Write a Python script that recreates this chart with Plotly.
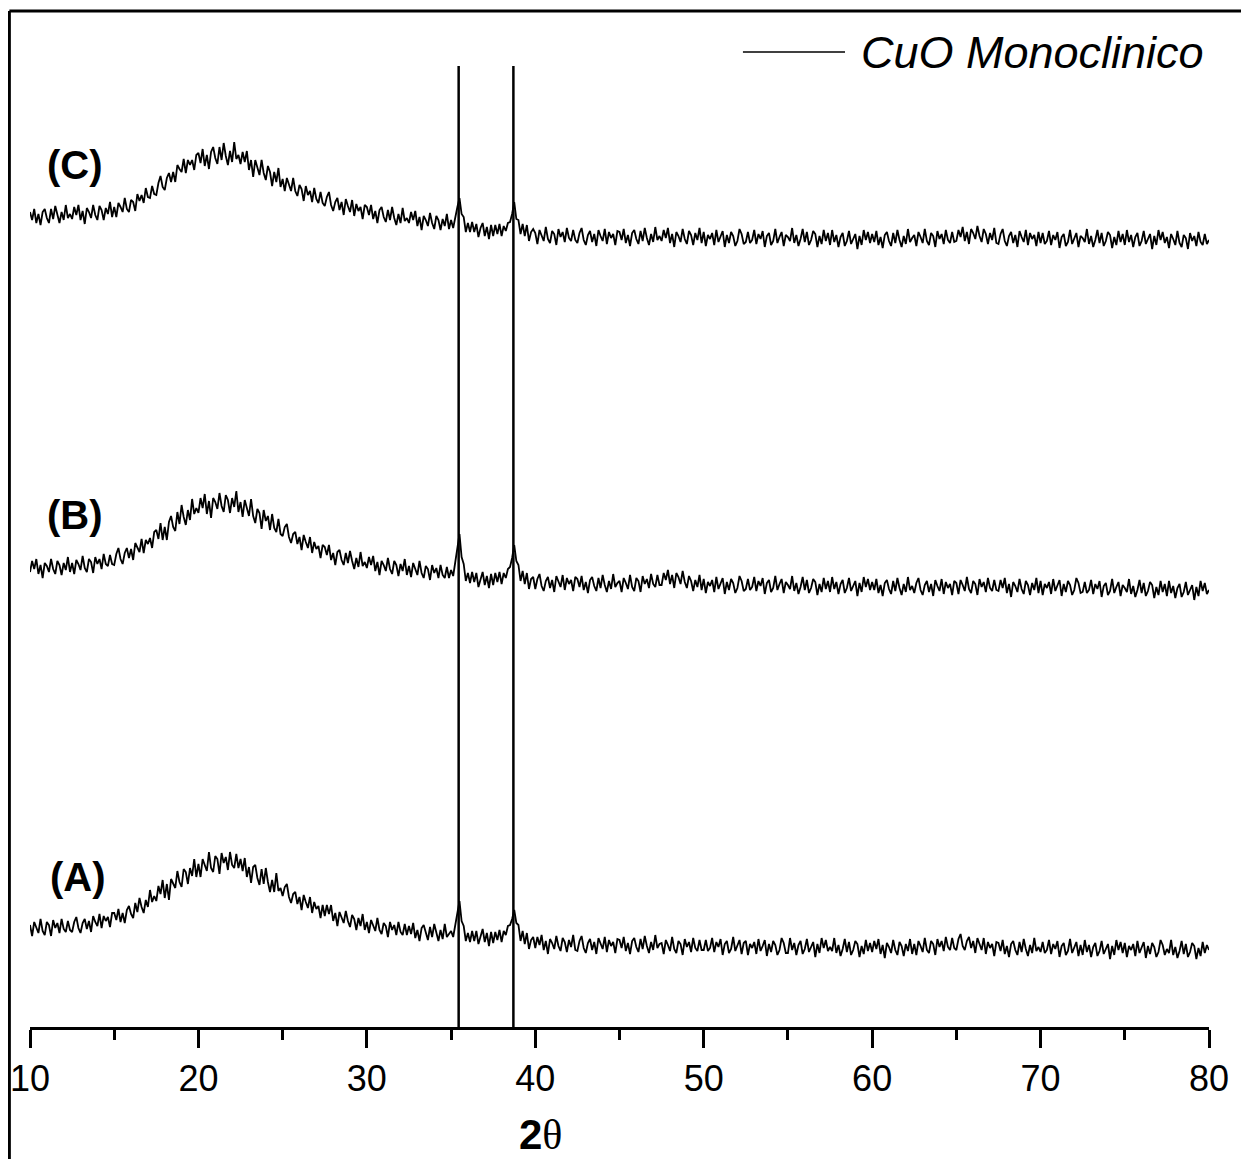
import numpy as np
import plotly.graph_objects as go

# 2-theta sampling grid (degrees)
theta_start, theta_stop, theta_step = 10.0, 80.0, 0.125
two_theta = np.round(np.arange(theta_start, theta_stop + theta_step / 2, theta_step), 3)

# Intensity (a.u., traces already vertically offset as in the figure); one row = 2.5 degrees
sample_C = [
    815, 807, 818, 804, 813, 802, 815, 818, 809, 804, 818, 808, 821, 811, 804, 815, 807, 822, 809, 813,
    808, 820, 812, 822, 807, 816, 803, 819, 815, 809, 822, 812, 807, 821, 817, 807, 819, 813, 825, 810,
    820, 810, 824, 820, 815, 829, 818, 815, 827, 825, 816, 833, 826, 832, 824, 839, 830, 829, 841, 833,
    832, 844, 851, 840, 837, 849, 854, 845, 855, 845, 862, 858, 855, 868, 854, 867, 862, 867, 857, 872,
    874, 864, 878, 861, 872, 858, 875, 880, 869, 863, 880, 867, 884, 871, 862, 876, 865, 885, 868, 872,
    863, 875, 865, 876, 857, 867, 850, 867, 860, 852, 867, 854, 847, 861, 855, 841, 855, 845, 859, 840,
    848, 836, 849, 843, 836, 849, 836, 831, 842, 838, 826, 841, 832, 836, 825, 839, 828, 824, 835, 824,
    821, 830, 835, 822, 816, 825, 829, 817, 825, 812, 828, 821, 815, 827, 811, 823, 816, 820, 808, 822,
    820, 812, 822, 808, 816, 804, 817, 820, 810, 805, 817, 807, 820, 809, 802, 813, 804, 819, 806, 809,
    804, 815, 807, 816, 801, 810, 797, 811, 807, 801, 814, 804, 798, 811, 807, 797, 808, 801, 813, 798,
    807, 799, 811, 820, 829, 813, 810, 795, 804, 795, 805, 795, 803, 790, 799, 804, 791, 800, 788, 802,
    791, 802, 793, 803, 791, 801, 796, 804, 805, 813, 825, 808, 807, 793, 803, 791, 802, 786, 795, 798,
    794, 783, 797, 792, 786, 800, 788, 784, 796, 793, 782, 798, 790, 795, 785, 799, 789, 786, 797, 787,
    784, 794, 799, 787, 782, 792, 796, 785, 793, 781, 797, 791, 786, 798, 783, 795, 789, 793, 782, 796,
    795, 787, 798, 784, 792, 781, 794, 797, 788, 783, 796, 786, 799, 789, 782, 793, 785, 800, 787, 791,
    786, 797, 789, 799, 784, 793, 780, 795, 791, 785, 798, 788, 783, 796, 792, 782, 794, 787, 799, 784,
    795, 781, 792, 788, 794, 782, 797, 785, 790, 796, 780, 792, 784, 795, 791, 781, 786, 798, 793, 783,
    785, 795, 784, 787, 797, 783, 793, 788, 796, 780, 791, 794, 782, 786, 798, 784, 790, 795, 781, 792,
    790, 786, 799, 784, 792, 781, 788, 798, 785, 795, 782, 787, 796, 793, 780, 791, 783, 797, 786, 794,
    782, 797, 785, 792, 780, 790, 794, 781, 786, 796, 783, 789, 793, 778, 791, 782, 797, 787, 795, 784,
    793, 785, 796, 782, 790, 779, 792, 795, 786, 781, 794, 784, 797, 787, 780, 791, 783, 798, 785, 789,
    792, 781, 795, 790, 784, 798, 786, 782, 794, 791, 780, 796, 788, 793, 783, 797, 787, 784, 795, 785,
    786, 797, 790, 800, 786, 795, 783, 798, 794, 788, 801, 791, 785, 798, 793, 783, 794, 787, 799, 784,
    783, 793, 798, 786, 781, 791, 795, 784, 792, 780, 796, 790, 785, 797, 782, 794, 788, 792, 781, 795,
    784, 794, 783, 786, 796, 782, 792, 787, 795, 779, 790, 793, 781, 785, 797, 783, 789, 794, 780, 791,
    789, 785, 798, 783, 791, 780, 787, 797, 784, 794, 781, 786, 795, 792, 779, 790, 782, 796, 785, 793,
    782, 797, 785, 792, 780, 790, 794, 781, 786, 796, 783, 789, 793, 778, 791, 782, 797, 787, 795, 784,
    790, 779, 793, 788, 782, 796, 784, 780, 792, 789, 778, 794, 786, 791, 781, 795, 785, 782, 793, 783,
    787,
]

sample_B = [
    455, 466, 458, 468, 453, 462, 449, 464, 461, 455, 468, 458, 453, 466, 462, 452, 464, 457, 470, 455,
    464, 453, 467, 463, 457, 471, 459, 455, 468, 465, 454, 470, 463, 468, 458, 473, 463, 461, 472, 463,
    462, 473, 479, 468, 463, 474, 479, 469, 478, 467, 484, 479, 475, 488, 474, 487, 483, 489, 479, 495,
    497, 488, 504, 487, 500, 487, 505, 511, 500, 496, 515, 503, 522, 510, 502, 517, 507, 528, 513, 519,
    514, 529, 519, 533, 513, 526, 509, 529, 525, 518, 534, 521, 515, 532, 527, 514, 529, 520, 536, 515,
    525, 510, 527, 519, 511, 528, 511, 504, 518, 514, 498, 517, 506, 511, 497, 513, 499, 495, 508, 493,
    491, 500, 503, 490, 484, 493, 495, 483, 490, 477, 492, 485, 479, 490, 474, 485, 478, 481, 469, 482,
    480, 472, 482, 467, 474, 462, 475, 477, 467, 462, 474, 464, 476, 466, 458, 469, 460, 475, 461, 465,
    459, 470, 462, 471, 456, 465, 452, 466, 462, 456, 469, 458, 453, 466, 462, 451, 463, 456, 468, 452,
    461, 450, 464, 458, 452, 466, 454, 449, 461, 458, 447, 462, 454, 459, 449, 462, 452, 449, 460, 449,
    457, 451, 465, 478, 493, 470, 463, 446, 454, 444, 455, 445, 454, 440, 449, 455, 442, 451, 439, 453,
    442, 454, 445, 455, 443, 454, 449, 458, 460, 469, 482, 466, 462, 446, 456, 443, 454, 438, 448, 450,
    438, 448, 453, 441, 436, 446, 450, 439, 447, 435, 451, 445, 440, 452, 437, 449, 443, 447, 436, 450,
    448, 440, 451, 437, 445, 434, 447, 450, 441, 436, 449, 439, 452, 442, 435, 446, 438, 453, 440, 444,
    446, 435, 449, 444, 438, 452, 440, 436, 449, 446, 435, 451, 443, 448, 439, 453, 443, 440, 452, 442,
    442, 454, 447, 457, 443, 452, 439, 454, 450, 443, 456, 445, 439, 451, 446, 436, 447, 440, 452, 437,
    448, 434, 445, 441, 447, 435, 450, 438, 443, 449, 433, 445, 437, 448, 444, 434, 439, 451, 446, 436,
    438, 448, 437, 440, 450, 436, 446, 441, 449, 433, 444, 447, 435, 439, 451, 437, 443, 448, 434, 445,
    442, 438, 451, 436, 444, 433, 440, 450, 437, 447, 434, 439, 448, 445, 432, 443, 435, 449, 438, 446,
    435, 450, 438, 445, 433, 443, 447, 434, 439, 449, 436, 442, 446, 431, 444, 435, 450, 440, 448, 437,
    445, 437, 448, 434, 442, 431, 444, 447, 438, 433, 446, 436, 449, 439, 432, 443, 435, 450, 437, 441,
    434, 444, 449, 437, 432, 442, 446, 435, 443, 431, 447, 441, 436, 448, 433, 445, 439, 443, 432, 446,
    444, 433, 447, 442, 436, 450, 438, 434, 446, 443, 432, 448, 440, 445, 435, 449, 439, 436, 447, 437,
    436, 447, 439, 449, 434, 443, 430, 445, 441, 435, 448, 438, 433, 446, 442, 432, 444, 437, 449, 434,
    446, 432, 443, 439, 445, 433, 448, 436, 441, 447, 431, 443, 435, 446, 442, 432, 437, 449, 444, 434,
    435, 445, 434, 437, 447, 433, 443, 438, 446, 430, 441, 444, 432, 436, 448, 434, 440, 445, 431, 442,
    439, 435, 448, 433, 441, 430, 437, 447, 434, 444, 431, 436, 445, 442, 429, 440, 432, 446, 435, 443,
    431, 446, 434, 441, 429, 439, 443, 430, 435, 445, 432, 438, 442, 427, 440, 431, 446, 436, 444, 433,
    437,
]

sample_A = [
    102, 91, 105, 100, 94, 108, 96, 92, 105, 102, 91, 107, 99, 104, 94, 108, 98, 95, 106, 97,
    95, 105, 110, 99, 94, 104, 108, 98, 106, 95, 111, 105, 101, 113, 99, 111, 106, 110, 100, 114,
    114, 107, 118, 105, 114, 104, 117, 121, 113, 109, 124, 115, 129, 120, 114, 127, 120, 137, 125, 131,
    126, 141, 133, 147, 129, 143, 127, 148, 144, 139, 156, 145, 140, 158, 155, 143, 159, 151, 168, 150,
    163, 150, 168, 162, 156, 175, 159, 155, 171, 168, 153, 174, 164, 170, 157, 175, 162, 159, 173, 159,
    168, 156, 169, 150, 160, 144, 160, 162, 149, 142, 158, 143, 159, 145, 135, 147, 135, 154, 136, 139,
    131, 140, 143, 130, 124, 133, 135, 123, 130, 117, 132, 125, 119, 130, 114, 125, 118, 121, 109, 122,
    111, 122, 113, 122, 106, 114, 101, 115, 110, 104, 116, 106, 100, 112, 108, 97, 109, 101, 113, 97,
    105, 94, 107, 102, 96, 109, 97, 93, 104, 101, 90, 105, 97, 102, 92, 105, 95, 92, 103, 92,
    101, 93, 104, 89, 97, 86, 99, 102, 93, 87, 100, 90, 103, 93, 86, 97, 88, 103, 90, 93,
    96, 90, 103, 114, 126, 106, 101, 86, 94, 85, 96, 86, 96, 83, 92, 98, 85, 94, 81, 95,
    84, 95, 87, 97, 85, 96, 92, 101, 102, 108, 117, 104, 102, 86, 96, 83, 94, 78, 87, 90,
    79, 90, 82, 92, 77, 86, 73, 88, 84, 78, 91, 81, 76, 89, 85, 75, 87, 80, 92, 77,
    76, 86, 91, 79, 74, 84, 88, 77, 85, 73, 89, 83, 78, 90, 75, 87, 81, 85, 74, 88,
    87, 79, 90, 76, 84, 73, 86, 89, 80, 75, 88, 78, 91, 81, 74, 85, 77, 92, 79, 83,
    84, 73, 87, 82, 76, 90, 78, 74, 86, 83, 72, 88, 80, 85, 75, 89, 79, 76, 87, 77,
    77, 87, 76, 79, 89, 75, 85, 80, 88, 72, 83, 86, 74, 78, 90, 76, 82, 87, 73, 84,
    86, 72, 83, 79, 85, 73, 88, 76, 81, 87, 71, 83, 75, 86, 82, 72, 77, 89, 84, 74,
    74, 89, 77, 84, 72, 82, 86, 73, 78, 88, 75, 81, 85, 70, 83, 74, 89, 79, 87, 76,
    80, 76, 89, 74, 82, 71, 78, 88, 75, 85, 72, 77, 86, 83, 70, 81, 73, 87, 76, 84,
    75, 86, 78, 88, 73, 82, 69, 84, 80, 74, 87, 77, 72, 85, 81, 71, 83, 76, 88, 73,
    83, 72, 86, 81, 75, 89, 77, 74, 86, 83, 72, 88, 80, 86, 76, 90, 80, 77, 89, 79,
    77, 88, 93, 81, 77, 86, 90, 79, 86, 74, 89, 83, 77, 89, 73, 85, 79, 83, 71, 85,
    84, 76, 87, 73, 81, 70, 83, 86, 77, 72, 85, 75, 88, 78, 71, 82, 74, 89, 76, 80,
    75, 85, 74, 77, 87, 73, 83, 78, 86, 70, 81, 84, 72, 76, 88, 74, 80, 85, 71, 82,
    72, 87, 75, 82, 70, 80, 84, 71, 76, 86, 73, 79, 83, 68, 81, 72, 87, 77, 85, 74,
    84, 70, 81, 77, 83, 71, 86, 74, 79, 85, 69, 81, 73, 84, 80, 70, 75, 87, 82, 72,
    78, 74, 87, 72, 80, 69, 76, 86, 73, 83, 70, 75, 84, 81, 68, 79, 71, 85, 74, 82,
    77,
]

# CuO monoclinic reference peak positions and marker height
cuo_positions = [35.45, 38.7]
cuo_height = 961

series_labels = ["(A)", "(B)", "(C)"]
label_x = [12.85, 12.65, 12.65]
label_y = [150, 512, 862]

x_ticks = [10, 20, 30, 40, 50, 60, 70, 80]

FONT = "Arial, 'Liberation Sans', sans-serif"

fig = go.Figure()
for ys in (sample_A, sample_B, sample_C):
    n = min(len(ys), len(two_theta))
    fig.add_trace(go.Scatter(x=two_theta[:n], y=ys[:n], mode="lines",
                             line=dict(color="black", width=1.8),
                             showlegend=False, hoverinfo="skip"))

ref_x, ref_y = [], []
for p in cuo_positions:
    ref_x += [p, p, None]
    ref_y += [0, cuo_height, None]
fig.add_trace(go.Scatter(x=ref_x, y=ref_y, mode="lines", name="CuO Monoclinico",
                         line=dict(color="black", width=2.5), showlegend=False))

for t, xx, yy in zip(series_labels, label_x, label_y):
    fig.add_annotation(x=xx, y=yy, xref="x", yref="y", text=f"<b>{t}</b>",
                       showarrow=False, font=dict(family=FONT, size=40, color="black"),
                       xanchor="center", yanchor="middle")

# manual legend (long line sample)
fig.add_shape(type="line", xref="paper", yref="paper", x0=0.6047, x1=0.6913,
              y0=0.9596, y1=0.9596, line=dict(color="black", width=1.5))
fig.add_annotation(xref="paper", yref="paper", x=0.703, y=0.9596, text="<i>CuO Monoclinico</i>",
                   showarrow=False, xanchor="left", yanchor="middle",
                   font=dict(family=FONT, size=45, color="black"))

# axis title
fig.add_annotation(xref="paper", yref="paper", x=0.4326, y=-0.106,
                   text="<b>2</b><span style='font-family:Liberation Serif, serif'>θ</span>",
                   showarrow=False, xanchor="center", yanchor="middle",
                   font=dict(family=FONT, size=42, color="black"))

# outer frame (left and top edges)
fig.add_shape(type="line", xref="paper", yref="paper", x0=-0.0175, x1=1.05, y0=1.0, y1=1.0,
              line=dict(color="black", width=3))
fig.add_shape(type="line", xref="paper", yref="paper", x0=-0.0175, x1=-0.0175, y0=1.0, y1=-0.2,
              line=dict(color="black", width=3))

fig.update_xaxes(range=[10, 80], tickvals=x_ticks, ticktext=[str(v) for v in x_ticks],
                 showline=True, linecolor="black", linewidth=3,
                 ticks="outside", ticklen=18, tickwidth=3, tickcolor="black",
                 minor=dict(dtick=5, tick0=10, ticks="outside", ticklen=10, tickwidth=3, tickcolor="black"),
                 showgrid=False, zeroline=False, ticklabelstandoff=0,
                 tickfont=dict(family=FONT, size=36, color="black"))
fig.update_yaxes(range=[0, 1016], visible=False, showgrid=False, zeroline=False)

# page body has an 8px margin, so the figure is sized/offset to compensate
fig.update_layout(width=1241, height=1151, plot_bgcolor="white", paper_bgcolor="white",
                  margin=dict(l=22, r=40, t=3, b=132), showlegend=False)

fig.write_html("out.html")
